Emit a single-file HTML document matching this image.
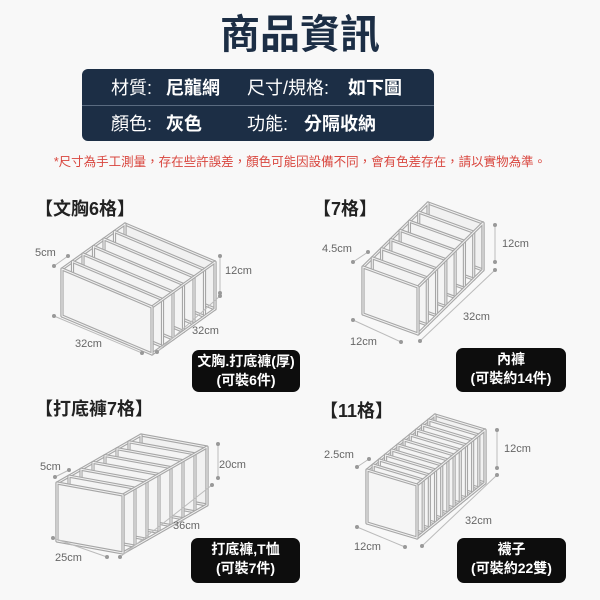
<!DOCTYPE html>
<html><head><meta charset="utf-8"><style>
html,body{margin:0;padding:0;width:600px;height:600px;background:#f8f8f8;overflow:hidden;font-family:"Liberation Sans","Noto Sans CJK TC",sans-serif}
.a{position:absolute;white-space:nowrap}
#t{left:0;width:600px;top:10px;text-align:center;font-size:40px;font-weight:bold;color:#1c2e45;line-height:50px}
#p{left:82px;top:69px;width:352px;height:72px;background:#1c2e45;border-radius:6px}
#p .l{position:absolute;left:0;right:0;top:36px;height:1px;background:#5a6b80}
.r{color:#fff;font-size:18px;line-height:20px}
.b{font-weight:bold}
#n{left:0;width:600px;top:151px;text-align:center;font-size:12.5px;color:#d9463e}
.h{font-size:18px;font-weight:bold;color:#222;line-height:22px}
.k{position:absolute;background:#0d0d0d;border-radius:7px;color:#fff;font-size:14px;font-weight:bold;text-align:center;line-height:19px;padding-top:2px}
</style></head><body>
<div class="a" id="t">商品資訊</div>
<div class="a" id="p"><div class="l"></div></div>
<div class="a r" style="left:111px;top:78px">材質:</div>
<div class="a r b" style="left:166px;top:78px">尼龍網</div>
<div class="a r" style="left:247px;top:78px">尺寸/規格:</div>
<div class="a r b" style="left:348px;top:78px">如下圖</div>
<div class="a r" style="left:111px;top:114px">顏色:</div>
<div class="a r b" style="left:166px;top:114px">灰色</div>
<div class="a r" style="left:247px;top:114px">功能:</div>
<div class="a r b" style="left:304px;top:114px">分隔收納</div>
<div class="a" id="n">*尺寸為手工測量，存在些許誤差，顏色可能因設備不同，會有色差存在，請以實物為準。</div>
<div class="a h" style="left:35px;top:198px">【文胸6格】</div>
<div class="a h" style="left:313px;top:198px">【7格】</div>
<div class="a h" style="left:35px;top:398px">【打底褲7格】</div>
<div class="a h" style="left:320px;top:400px">【11格】</div>
<svg id="s" class="a" style="left:0;top:0" width="600" height="600" font-family="Liberation Sans, sans-serif" font-size="11" fill="#666"></svg>
<div class="k" style="left:192px;top:350px;width:108px;height:40px">文胸.打底褲(厚)<br>(可裝6件)</div>
<div class="k" style="left:456px;top:348px;width:110px;height:42px">內褲<br>(可裝約14件)</div>
<div class="k" style="left:191px;top:538px;width:109px;height:43px">打底褲,T恤<br>(可裝7件)</div>
<div class="k" style="left:457px;top:538px;width:109px;height:43px">襪子<br>(可裝約22雙)</div>
<script>
var s=document.getElementById('s'),o='';
function P(pts,f){var q=pts.map(function(p){return p[0]+','+p[1]}).join(' ');
o+='<polygon points="'+q+'" fill="'+f+'" stroke="#a6a6a6" stroke-width="3.2" stroke-linejoin="round"/>';
o+='<polygon points="'+q+'" fill="none" stroke="#f2f2f2" stroke-width="1" stroke-linejoin="round"/>';}
function box(A,w,h,d,n){
 function pt(p,k){return [p[0]+d[0]*k,p[1]+d[1]*k]}
 var B=[A[0]+w[0],A[1]+w[1]],C=[B[0]+h[0],B[1]+h[1]],D=[A[0]+h[0],A[1]+h[1]];
 P([pt(A,1),pt(B,1),pt(C,1),pt(D,1)],'#f1f1f1');
 P([pt(A,0),pt(A,1),pt(D,1),D],'#f4f4f4');
 for(var i=n-1;i>=1;i--){var k=i/n;P([pt(A,k),pt(B,k),pt(C,k),pt(D,k)],'#f4f4f4');}
 P([B,pt(B,1),pt(C,1),C],'none');
 P([A,B,C,D],'#f5f5f5');
}
function dl(x1,y1,x2,y2){o+='<line x1="'+x1+'" y1="'+y1+'" x2="'+x2+'" y2="'+y2+'" stroke="#bbb" stroke-width="1"/><circle cx="'+x1+'" cy="'+y1+'" r="2" fill="#999"/><circle cx="'+x2+'" cy="'+y2+'" r="2" fill="#999"/>';}
function tx(x,y,t){o+='<text x="'+x+'" y="'+y+'">'+t+'</text>';}
box([62,269],[90,38],[0,47],[63,-45],6);
box([363,267],[55,20],[0,47],[65,-64],7);
box([57,483],[66,12],[0,58],[84,-48],7);
box([367,470],[50,15],[0,53],[68,-55],11);
dl(54,316,142,353);dl(157,352,220,296);dl(220,256,220,293);dl(54,266,68,256);
tx(35,256,'5cm');tx(225,274,'12cm');tx(192,334,'32cm');tx(75,347,'32cm');
dl(353,320,401,342);dl(420,341,495,270);dl(495,225,495,262);dl(353,262,368,252);
tx(322,252,'4.5cm');tx(502,247,'12cm');tx(463,320,'32cm');tx(350,345,'12cm');
dl(53,538,107,557);dl(120,557,212,485);dl(218,444,218,478);dl(55,477,69,470);
tx(40,470,'5cm');tx(219,468,'20cm');tx(173,529,'36cm');tx(55,561,'25cm');
dl(357,527,405,547);dl(422,546,497,475);dl(497,430,497,468);dl(357,467,369,459);
tx(324,458,'2.5cm');tx(504,452,'12cm');tx(465,524,'32cm');tx(354,550,'12cm');
s.innerHTML=o;
</script>
</body></html>
